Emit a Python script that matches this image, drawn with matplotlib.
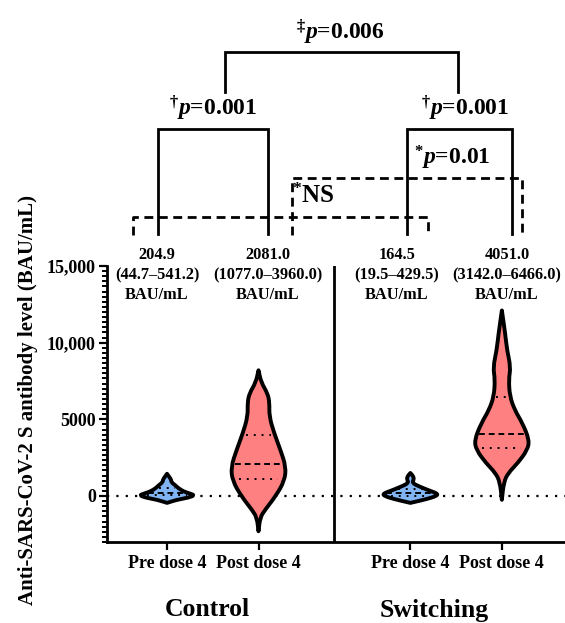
import numpy as np
import matplotlib
matplotlib.use("Agg")
import matplotlib.pyplot as plt
from matplotlib.ticker import MultipleLocator, FixedLocator
from matplotlib.lines import Line2D
from matplotlib.path import Path
from matplotlib.patches import PathPatch

plt.rcParams["font.family"] = "Liberation Serif"
plt.rcParams["font.weight"] = "bold"
plt.rcParams["mathtext.fontset"] = "custom"
plt.rcParams["mathtext.rm"] = "Liberation Serif:bold"
plt.rcParams["mathtext.it"] = "Liberation Serif:italic:bold"
plt.rcParams["mathtext.bf"] = "Liberation Serif:bold"

# -----------------------------
# Data
# -----------------------------
groups = ["Control", "Switching"]
tick_labels = ["Pre dose 4", "Post dose 4", "Pre dose 4", "Post dose 4"]
medians = [204.9, 2081.0, 164.5, 4051.0]
q1 = [44.7, 1077.0, 19.5, 3142.0]
q3 = [541.2, 3960.0, 429.5, 6466.0]

# violin outlines: level (BAU/mL) and relative half width
ctrl_pre_y = [-450, -250, -100, 50, 150, 300, 500, 700, 900, 1050, 1200, 1450]
ctrl_pre_w = [0, 0.35, 0.8, 1.0, 0.85, 0.6, 0.42, 0.3, 0.16, 0.15, 0.1, 0]

ctrl_post_y = [-2300, -1400, -900, 0, 1000, 1900, 3000, 4100, 5200, 6100, 6700, 7400, 8200]
ctrl_post_w = [0, 0.06, 0.24, 0.63, 0.95, 1.0, 0.80, 0.57, 0.39, 0.40, 0.33, 0.1, 0]

sw_pre_y = [-450, -200, 0, 150, 350, 600, 850, 1100, 1300, 1500]
sw_pre_w = [0, 0.6, 0.95, 1.0, 0.7, 0.35, 0.06, 0.13, 0.1, 0]

sw_post_y = [-250, 900, 1500, 2150, 3000, 3650, 4750, 5600, 6500, 7600, 8400, 9500, 10600, 12100]
sw_post_w = [0, 0.07, 0.23, 0.58, 0.93, 1.0, 0.75, 0.47, 0.29, 0.25, 0.32, 0.19, 0.12, 0]

profiles = [(ctrl_pre_y, ctrl_pre_w), (ctrl_post_y, ctrl_post_w),
            (sw_pre_y, sw_pre_w), (sw_post_y, sw_post_w)]

# -----------------------------
# Layout
# -----------------------------
W, H = 565, 623
fig = plt.figure(figsize=(W / 100, H / 100), dpi=100)
ax = fig.add_axes([107 / W, 1 - 542 / H, (565 - 107) / W, (542 - 266) / H])

xpos = [0, 1, 2.66, 3.66]
colors = ["#80B4F2", "#FF8080", "#80B4F2", "#FF8080"]
maxw = 0.30


def smooth_side(pts, verts, codes):
    # quadratic curves through edge midpoints, keeping both tips exact
    mids = (pts[:-1] + pts[1:]) / 2
    verts.append(mids[0])
    codes.append(Path.LINETO)
    for k in range(1, len(pts) - 1):
        verts += [pts[k], mids[k]]
        codes += [Path.CURVE3, Path.CURVE3]
    verts.append(pts[-1])
    codes.append(Path.LINETO)


def smooth_violin(x0, ys, ws):
    right = np.column_stack([x0 + ws, ys])
    left = np.column_stack([x0 - ws, ys])[::-1]
    verts = [right[0]]
    codes = [Path.MOVETO]
    smooth_side(right, verts, codes)
    smooth_side(left, verts, codes)
    codes[-1] = Path.CLOSEPOLY
    return Path(verts, codes)


ax.axhline(0, color="black", lw=1.6, ls=(0, (1, 3.2)), zorder=1)
ax.axvline(1.83, color="black", lw=2, zorder=1)

for i, (ys, ws) in enumerate(profiles):
    ys = np.array(ys, dtype=float)
    ws = np.array(ws) * maxw
    patch = PathPatch(smooth_violin(xpos[i], ys, ws), facecolor=colors[i],
                      edgecolor="black", lw=2.8, joinstyle="round", zorder=2)
    ax.add_patch(patch)
    # median (dashed) and quartiles (dotted)
    wm = np.interp(medians[i], ys, ws) * 0.9
    ax.plot([xpos[i] - wm, xpos[i] + wm], [medians[i]] * 2, color="black",
            lw=1.4, ls=(0, (3, 2)), zorder=3)
    for q in (q1[i], q3[i]):
        wq = np.interp(q, ys, ws) * 0.75
        ax.plot([xpos[i] - wq, xpos[i] + wq], [q] * 2, color="black",
                lw=1.4, ls=(0, (1, 3)), zorder=3)

ax.set_xlim(-0.656, 4.35)
ax.set_ylim(-3000, 15000)
ax.set_xticks(xpos)
ax.set_xticklabels(tick_labels, fontsize=13)
ax.yaxis.set_major_locator(FixedLocator([0, 5000, 10000, 15000]))
ax.set_yticklabels(["0", "5000", "10,000", "15,000"], fontsize=13)
ax.yaxis.set_minor_locator(MultipleLocator(5000 / 15))

for s in ["top", "right"]:
    ax.spines[s].set_visible(False)
for s in ["left", "bottom"]:
    ax.spines[s].set_linewidth(2)
ax.tick_params(axis="y", which="major", length=6, width=1.6, pad=2)
ax.tick_params(axis="y", which="minor", length=3.5, width=1.4)
ax.tick_params(axis="x", which="major", length=6, width=1.6, pad=3)

# group labels and y label
fig.text(207 / W, 1 - 610 / H, groups[0], ha="center", va="center", fontsize=18.5)
fig.text(434 / W, 1 - 610 / H, groups[1], ha="center", va="center", fontsize=18.5)
fig.text(28 / W, 1 - 400 / H, "Anti-SARS-CoV-2 S antibody level (BAU/mL)",
         rotation=90, ha="center", va="center", fontsize=15)

# median (IQR) labels above each violin
label_x = [157, 268, 397, 507]
for i in range(4):
    txt = "%.1f\n(%.1f\u2013%.1f)\nBAU/mL" % (medians[i], q1[i], q3[i])
    fig.text(label_x[i] / W, 1 - 275 / H, txt, ha="center", va="center",
             fontsize=11.8, linespacing=1.3)


# -----------------------------
# Significance brackets
# -----------------------------
def fig_line(xs, ys, ls="-"):
    fig.add_artist(Line2D([x / W for x in xs], [1 - y / H for y in ys],
                          color="black", lw=2, ls=ls, solid_joinstyle="miter"))


dash = (0, (3.2, 2))
fig_line([133, 133, 428, 428], [235, 217, 217, 235], dash)
fig_line([292, 292, 522, 522], [235, 178, 178, 235], dash)
fig_line([158, 158, 268, 268], [234, 129, 129, 234])
fig_line([407, 407, 512, 512], [234, 129, 129, 234])
fig_line([225, 225, 458, 458], [92, 52, 52, 92])

fig.text(340 / W, 1 - 32 / H, "$^{\u2021}\\mathit{p}$=0.006", ha="center", va="center", fontsize=17)
fig.text(213 / W, 1 - 108 / H, "$^{\u2020}\\mathit{p}$=0.001", ha="center", va="center", fontsize=17)
fig.text(465 / W, 1 - 108 / H, "$^{\u2020}\\mathit{p}$=0.001", ha="center", va="center", fontsize=17)
fig.text(414 / W, 1 - 158 / H, "$^{*}\\mathit{p}$=0.01", ha="left", va="center", fontsize=17)
fig.text(292 / W, 1 - 196 / H, "$^{*}$NS", ha="left", va="center", fontsize=18)

plt.savefig("out.png", dpi=100)
